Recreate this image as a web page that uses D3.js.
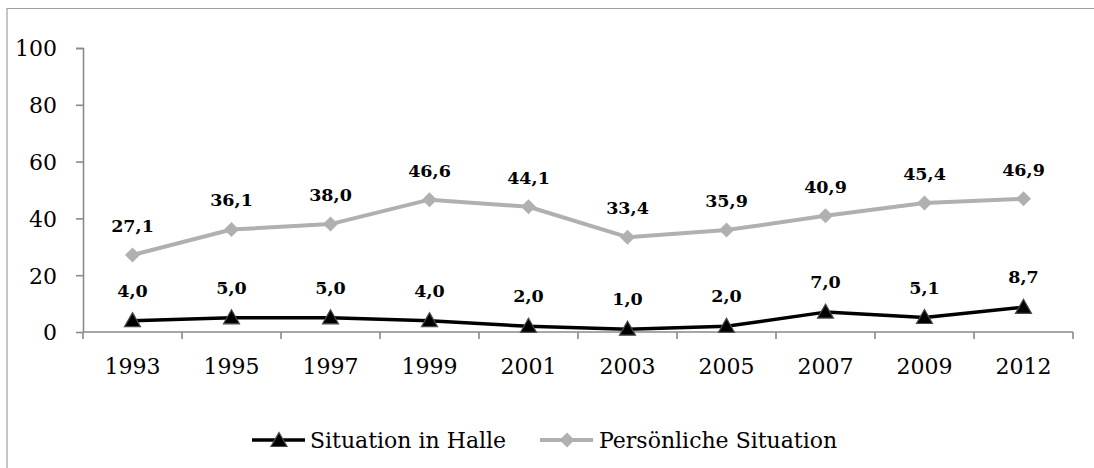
<!DOCTYPE html>
<html>
<head>
<meta charset="utf-8">
<script src="https://cdn.jsdelivr.net/npm/d3@7/dist/d3.min.js"></script>
<style>
  html, body { margin: 0; padding: 0; background: #fff; }
  svg { display: block; }
</style>
</head>
<body>
<svg id="chart" width="1094" height="468"></svg>
<script>
// Survey years (categories)
const years = ["1993", "1995", "1997", "1999", "2001", "2003", "2005", "2007", "2009", "2012"];
// Share of positive ratings, in percent
const halle = [4.0, 5.0, 5.0, 4.0, 2.0, 1.0, 2.0, 7.0, 5.1, 8.7];
const persoenlich = [27.1, 36.1, 38.0, 46.6, 44.1, 33.4, 35.9, 40.9, 45.4, 46.9];
const yTicks = [0, 20, 40, 60, 80, 100];
const seriesNames = ["Situation in Halle", "Persönliche Situation"];

const svg = d3.select("#chart");
const W = 1094, H = 468;
const FONT = "'DejaVu Serif', serif";
const AXIS = "#8a8a8a";
const GREY = "#b0b0b0";

svg.append("rect").attr("width", W).attr("height", H).attr("fill", "#fff");

// chart frame (left and top edges)
svg.append("path")
  .attr("d", `M7,${H} L7,8.5 L${W + 2},8.5`)
  .attr("fill", "none").attr("stroke", "#a0a0a0").attr("stroke-width", 1.2);

const plotLeft = 83, plotRight = 1073, plotTop = 48, plotBottom = 332;

const x = d3.scaleBand().domain(years).range([plotLeft, plotRight]).padding(0);
const y = d3.scaleLinear().domain([0, 100]).range([plotBottom, plotTop]);
const cx = d => x(d) + x.bandwidth() / 2;

// y axis
const yAxis = svg.append("g").attr("transform", `translate(${plotLeft},0)`)
  .call(d3.axisLeft(y).tickValues(yTicks).tickSize(7).tickPadding(19).tickFormat(d3.format("d")));
yAxis.select(".domain").attr("stroke", AXIS).attr("stroke-width", 1.6)
  .attr("d", `M-7,${plotTop}.5H0.5V${plotBottom}`);
yAxis.selectAll(".tick line").attr("stroke", AXIS).attr("stroke-width", 1.6);
yAxis.selectAll(".tick text").attr("font-family", FONT).attr("font-size", 22).attr("fill", "#000")
  .attr("dy", "0.36em");

// x axis with ticks at category boundaries
const xg = svg.append("g").attr("transform", `translate(0,${plotBottom})`);
xg.append("line").attr("x1", plotLeft).attr("x2", plotRight).attr("y1", 0).attr("y2", 0)
  .attr("stroke", AXIS).attr("stroke-width", 1.6);
const bounds = years.map(d => x(d)).concat([plotRight]);
xg.selectAll("line.tk").data(bounds).join("line").attr("class", "tk")
  .attr("x1", d => d).attr("x2", d => d).attr("y1", 0).attr("y2", 7)
  .attr("stroke", AXIS).attr("stroke-width", 1.6);
xg.selectAll("text").data(years).join("text")
  .attr("x", d => cx(d)).attr("y", 42)
  .attr("text-anchor", "middle").attr("font-family", FONT).attr("font-size", 22).attr("fill", "#000")
  .text(d => d);

const fmt = v => d3.format(".1f")(v).replace(".", ",");
const line = d3.line().x((d, i) => cx(years[i])).y(d => y(d));

const diamondPath = "M0,-7.5L7.5,0L0,7.5L-7.5,0Z";
const triPath = "M0,-7.5L8,6.5L-8,6.5Z";

// Persönliche Situation
svg.append("path").datum(persoenlich).attr("d", line)
  .attr("fill", "none").attr("stroke", GREY).attr("stroke-width", 4).attr("stroke-linejoin", "round");
svg.selectAll("path.dm").data(persoenlich).join("path").attr("class", "dm")
  .attr("d", diamondPath)
  .attr("transform", (d, i) => `translate(${cx(years[i])},${y(d)})`)
  .attr("fill", GREY);
svg.selectAll("text.lp").data(persoenlich).join("text").attr("class", "lp")
  .attr("x", (d, i) => cx(years[i])).attr("y", d => y(d) - 23)
  .attr("text-anchor", "middle").attr("font-family", FONT).attr("font-weight", "bold")
  .attr("font-size", 17.5).attr("fill", "#000").text(fmt);

// Situation in Halle
svg.append("path").datum(halle).attr("d", line)
  .attr("fill", "none").attr("stroke", "#000").attr("stroke-width", 3.5).attr("stroke-linejoin", "round");
svg.selectAll("path.tr").data(halle).join("path").attr("class", "tr")
  .attr("d", triPath)
  .attr("transform", (d, i) => `translate(${cx(years[i])},${y(d) - 0.5})`)
  .attr("fill", "#000").attr("stroke", "#4a4a4a").attr("stroke-width", 1.2);
svg.selectAll("text.lh").data(halle).join("text").attr("class", "lh")
  .attr("x", (d, i) => cx(years[i])).attr("y", d => y(d) - 24)
  .attr("text-anchor", "middle").attr("font-family", FONT).attr("font-weight", "bold")
  .attr("font-size", 17.5).attr("fill", "#000").text(fmt);

// legend
const legY = 440;
const leg = [
  { name: seriesNames[0], x0: 252, color: "#000", sw: 3.5, marker: triPath, tx: 310 },
  { name: seriesNames[1], x0: 540, color: GREY, sw: 4, marker: diamondPath, tx: 599 }
];
leg.forEach(l => {
  svg.append("line").attr("x1", l.x0).attr("x2", l.x0 + 53).attr("y1", legY).attr("y2", legY)
    .attr("stroke", l.color).attr("stroke-width", l.sw);
  svg.append("path").attr("d", l.marker).attr("transform", `translate(${l.x0 + 27},${legY})`)
    .attr("fill", l.color).attr("stroke", l.color === "#000" ? "#4a4a4a" : "none").attr("stroke-width", 1.2);
  svg.append("text").attr("x", l.tx).attr("y", legY + 8)
    .attr("font-family", FONT).attr("font-size", 22).attr("fill", "#000").text(l.name);
});
</script>
</body>
</html>
